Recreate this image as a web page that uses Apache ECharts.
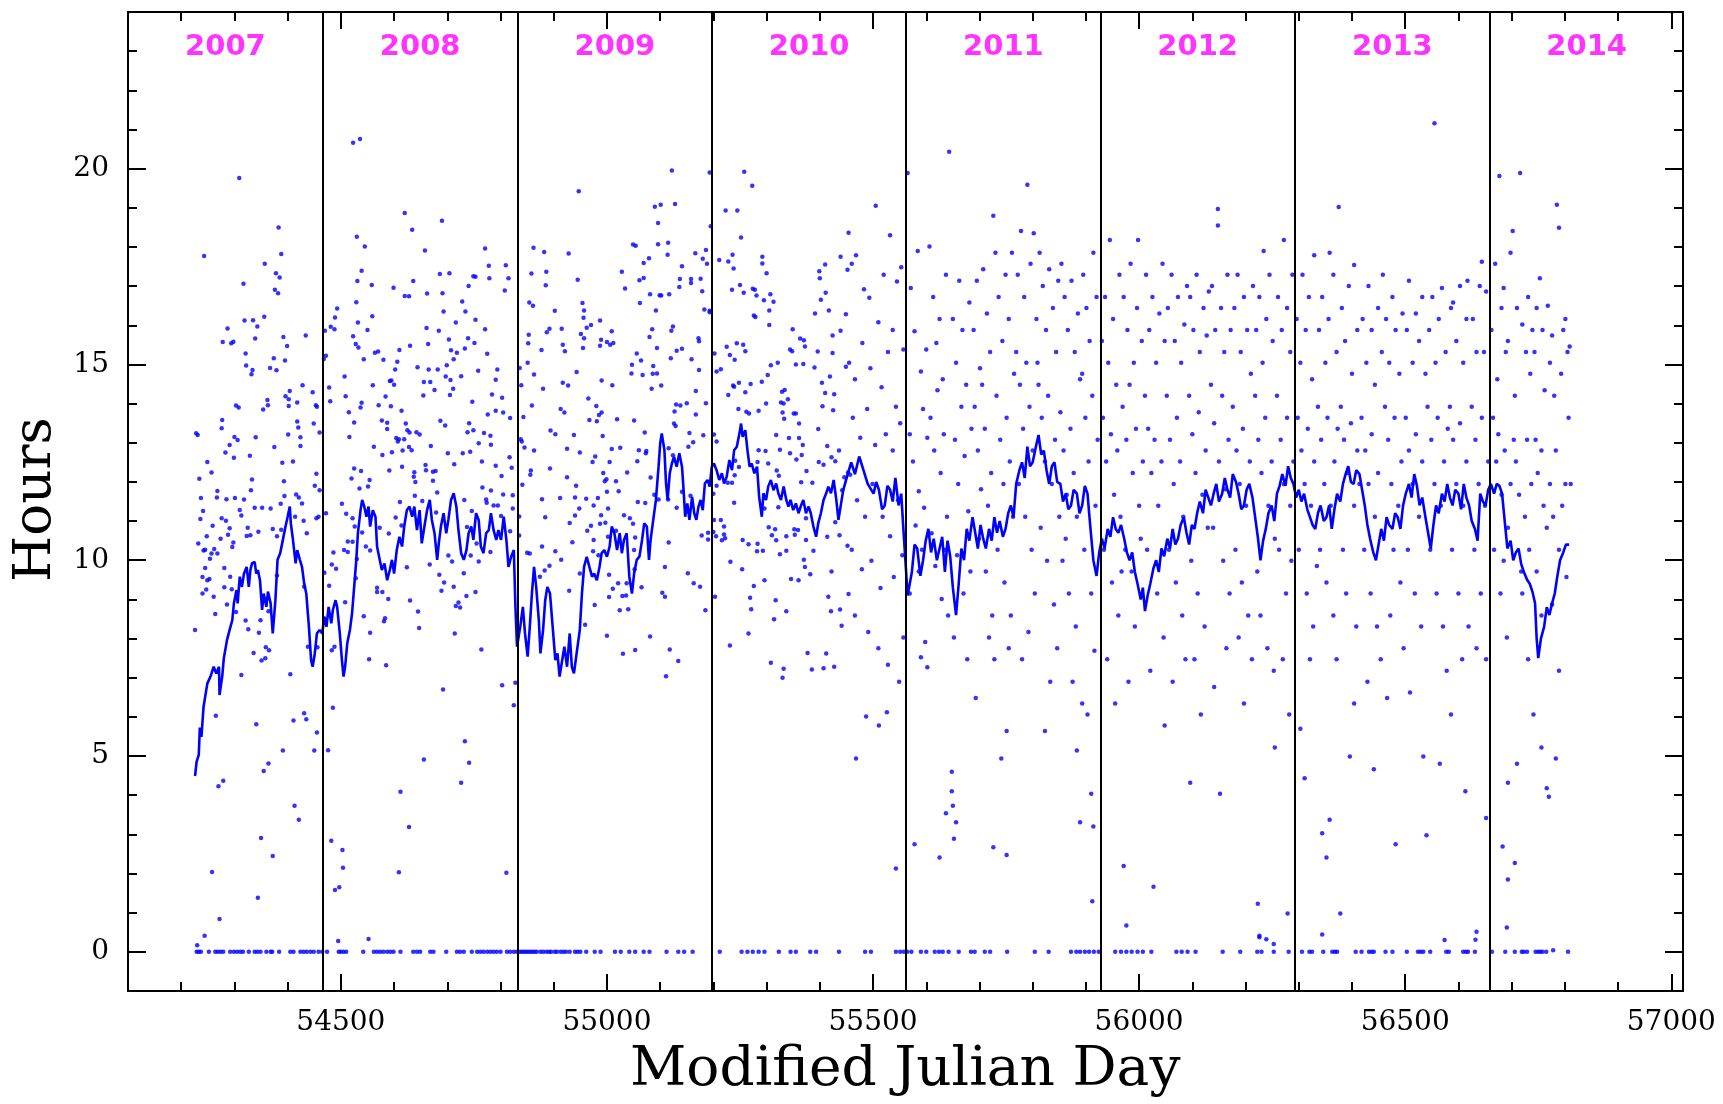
<!DOCTYPE html>
<html>
<head>
<meta charset="utf-8">
<script src="https://cdn.jsdelivr.net/npm/echarts@6/dist/echarts.min.js"></script>
<style>
html,body{margin:0;padding:0;background:#fff;}
#chart{width:1723px;height:1104px;}
</style>
</head>
<body>
<div id="chart"></div>
<script>
// ---- axis ticks ----
const xMajorTicks = [54500, 55000, 55500, 56000, 56500, 57000];
const xMinorTicks = [54200,54300,54400,54600,54700,54800,54900,55100,55200,55300,55400,55600,55700,55800,55900,56100,56200,56300,56400,56600,56700,56800,56900];
const yMajorTicks = [0, 5, 10, 15, 20];
const yMinorTicks = [-1,1,2,3,4,6,7,8,9,11,12,13,14,16,17,18,19,21,22,23,24];

// ---- year boundaries and labels ----
const yearStarts = [54466, 54832, 55197, 55562, 55927, 56293, 56658];
const yearNames = ['2007','2008','2009','2010','2011','2012','2013','2014'];
const yearMids = [54283, 54649, 55015, 55380, 55745, 56110, 56476, 56841];

// ---- running mean (MJD, hours) ----
const runningMean = [
[54226,4.49],[54229,4.86],[54233,5.03],[54235,5.73],[54238,5.49],[54242,6.26],[54249,6.85],[54255,7.03],[54261,7.28],[54266,7.11],[54271,7.28],[54272,6.56],[54277,7.03],[54280,7.49],[54286,7.96],[54291,8.22],[54296,8.47],[54299,8.90],[54304,9.24],[54306,8.90],[54310,9.58],[54314,9.32],[54318,9.66],[54323,9.83],[54327,9.32],[54330,9.75],[54333,9.92],[54338,9.96],[54341,9.66],[54344,9.75],[54348,9.49],[54352,8.73],[54355,9.15],[54360,8.81],[54363,9.20],[54368,8.90],[54372,8.13],[54377,8.98],[54381,10.01],[54386,10.18],[54391,10.52],[54396,10.86],[54400,11.11],[54404,11.37],[54406,10.94],[54410,10.52],[54415,9.92],[54418,10.26],[54423,10.01],[54427,9.83],[54431,9.41],[54435,9.15],[54440,8.30],[54444,7.45],[54447,7.28],[54451,7.62],[54455,8.13],[54460,8.22],[54465,8.13],[54469,8.56],[54473,8.30],[54477,8.81],[54482,8.39],[54485,8.73],[54490,8.98],[54493,8.81],[54498,8.13],[54502,7.45],[54505,7.03],[54508,7.28],[54512,7.88],[54517,8.22],[54521,8.64],[54525,9.32],[54529,10.01],[54532,10.69],[54537,11.28],[54540,11.54],[54544,11.37],[54548,11.11],[54552,11.37],[54555,10.86],[54560,11.28],[54565,11.11],[54568,10.35],[54573,10.01],[54577,9.75],[54582,9.92],[54587,9.49],[54592,9.75],[54596,10.01],[54600,9.66],[54605,10.26],[54610,10.60],[54615,10.35],[54619,10.86],[54624,11.28],[54629,11.37],[54634,11.11],[54638,11.37],[54643,10.77],[54648,11.28],[54652,10.43],[54657,10.86],[54662,11.28],[54667,11.54],[54671,11.03],[54676,10.69],[54681,10.01],[54684,10.43],[54688,10.86],[54693,11.20],[54698,10.69],[54702,11.03],[54707,11.54],[54712,11.71],[54717,11.37],[54721,10.77],[54726,10.18],[54731,10.01],[54736,10.26],[54740,10.69],[54745,10.86],[54749,10.52],[54754,11.20],[54759,11.03],[54763,10.35],[54768,10.18],[54773,10.69],[54778,10.77],[54782,11.20],[54787,10.77],[54792,10.52],[54796,10.77],[54801,10.52],[54806,11.11],[54811,10.52],[54815,9.83],[54820,10.09],[54825,10.26],[54828,8.81],[54831,7.79],
[54837,8.30],[54842,8.81],[54846,8.13],[54851,7.54],[54855,8.30],[54859,9.15],[54863,9.83],[54867,9.32],[54872,8.47],[54875,7.62],[54880,8.22],[54884,8.98],[54888,9.32],[54893,9.15],[54898,8.30],[54903,7.45],[54907,7.62],[54911,7.03],[54915,7.37],[54920,7.79],[54925,7.28],[54930,8.13],[54934,7.28],[54938,7.11],[54943,7.62],[54949,8.22],[54953,9.15],[54957,9.83],[54962,10.09],[54967,9.83],[54972,9.58],[54976,9.66],[54981,9.49],[54986,9.83],[54990,10.18],[54995,10.26],[55000,10.09],[55005,10.35],[55009,10.86],[55014,10.69],[55019,10.26],[55024,10.69],[55028,10.18],[55032,10.52],[55037,10.69],[55042,9.58],[55047,9.15],[55051,9.66],[55056,10.01],[55061,10.09],[55066,10.52],[55070,10.94],[55075,10.86],[55079,10.01],[55082,10.52],[55087,11.03],[55092,11.54],[55097,12.39],[55100,12.98],[55103,13.24],[55108,12.81],[55111,11.96],[55114,11.54],[55118,12.22],[55122,12.47],[55126,12.64],[55131,12.39],[55136,12.73],[55141,12.39],[55144,11.79],[55147,11.11],[55151,11.45],[55155,11.03],[55160,11.62],[55164,11.20],[55168,11.03],[55172,11.37],[55176,11.54],[55180,11.28],[55184,11.96],[55189,12.05],[55193,11.88],[55197,12.39],
[55201,12.47],[55206,12.30],[55211,12.05],[55216,12.22],[55220,11.96],[55225,12.13],[55230,12.56],[55235,12.30],[55239,12.81],[55244,12.90],[55249,13.24],[55252,13.49],[55255,13.15],[55260,13.32],[55264,12.81],[55268,12.39],[55272,12.47],[55277,12.22],[55282,12.39],[55286,11.62],[55291,11.11],[55294,11.71],[55299,11.54],[55303,11.88],[55308,12.05],[55313,11.79],[55318,11.96],[55322,11.71],[55327,11.54],[55332,11.88],[55337,11.54],[55341,11.37],[55345,11.54],[55350,11.28],[55355,11.45],[55360,11.20],[55364,11.37],[55369,11.54],[55374,11.20],[55379,11.37],[55383,11.20],[55388,10.86],[55393,10.60],[55397,10.94],[55402,11.20],[55407,11.54],[55412,11.71],[55416,11.88],[55421,11.71],[55426,12.05],[55431,11.54],[55435,11.03],[55439,11.37],[55444,11.79],[55451,12.13],
[55459,12.5],[55466,12.2],[55474,12.65],[55482,12.3],[55490,11.95],[55501,11.7],[55506,12.0],[55511,11.8],[55517,11.3],[55522,11.4],[55527,11.9],[55532,11.8],[55537,11.5],[55542,12.1],[55548,11.4],[55553,11.7],[55557,10.8],[55565,9.1],
[55569,9.4],[55573,9.7],[55578,10.4],[55583,10.3],[55589,9.6],[55594,10.0],[55599,10.5],[55604,10.8],[55609,10.2],[55614,10.55],[55620,10.0],[55625,10.3],[55630,10.6],[55635,9.7],[55640,10.5],[55645,10.1],[55650,9.3],[55656,8.6],[55661,9.4],[55666,10.3],[55671,10.0],[55676,10.8],[55681,10.5],[55687,11.1],[55692,10.7],[55697,10.3],[55702,10.9],[55707,10.55],[55712,10.3],[55718,10.8],[55723,10.5],[55728,11.1],[55733,10.7],[55738,11.0],[55744,10.6],[55749,10.8],[55754,11.2],[55759,11.4],[55764,11.1],[55769,11.95],[55775,12.3],[55780,12.5],[55785,12.1],[55790,12.9],[55795,12.4],[55800,12.5],[55806,12.9],[55811,13.2],[55816,12.7],[55821,12.8],[55826,12.3],[55831,11.95],[55836,12.4],[55841,12.5],[55846,12.0],[55852,11.95],[55857,11.5],[55862,11.7],[55867,11.3],[55872,11.4],[55877,11.8],[55883,11.7],[55888,11.2],[55893,11.4],[55898,11.9],[55903,11.7],[55908,10.9],[55914,10.0],[55920,9.6],
[55925,10.2],[55930,10.55],[55935,10.3],[55941,10.8],[55946,10.6],[55951,11.1],[55956,10.8],[55961,10.7],[55966,10.9],[55972,10.55],[55977,10.2],[55982,10.0],[55987,10.2],[55992,9.7],[55997,9.4],[56003,9.0],[56007,9.3],[56011,8.7],[56016,9.1],[56021,9.4],[56027,9.8],[56032,10.0],[56037,9.7],[56042,10.3],[56047,10.1],[56053,10.55],[56058,10.3],[56063,10.8],[56068,10.4],[56073,10.55],[56078,10.9],[56084,11.1],[56089,10.7],[56094,10.4],[56099,10.9],[56104,10.8],[56109,11.2],[56114,11.5],[56120,11.2],[56125,11.8],[56130,11.6],[56135,11.4],[56140,11.7],[56145,11.95],[56150,11.5],[56156,11.7],[56161,12.1],[56166,11.8],[56171,11.6],[56176,12.2],[56182,12.0],[56187,11.7],[56192,11.3],[56197,11.4],[56202,11.8],[56207,11.95],[56213,11.6],[56218,11.1],[56223,10.6],[56228,10.0],[56233,10.5],[56238,10.8],[56243,11.2],[56249,11.4],[56254,11.0],[56259,11.7],[56264,11.9],[56269,12.2],[56275,11.9],[56280,12.4],[56285,12.1],[56290,11.95],
[56295,11.6],[56300,11.8],[56305,11.5],[56310,11.7],[56316,11.3],[56321,11.1],[56326,10.9],[56331,10.8],[56336,11.2],[56341,11.4],[56347,11.0],[56352,11.1],[56357,11.4],[56362,10.8],[56367,11.3],[56372,11.7],[56378,11.5],[56383,11.95],[56388,12.2],[56393,12.4],[56398,12.0],[56403,11.95],[56408,12.3],[56414,12.2],[56419,11.8],[56424,11.4],[56429,10.9],[56434,10.55],[56440,10.2],[56445,10.0],[56450,10.4],[56455,10.8],[56460,10.5],[56465,11.1],[56470,10.9],[56476,10.8],[56481,11.2],[56486,11.1],[56491,10.8],[56496,11.4],[56501,11.7],[56507,11.95],[56512,11.6],[56517,12.2],[56522,11.9],[56527,11.4],[56532,11.6],[56538,11.1],[56543,10.7],[56548,10.3],[56553,10.9],[56558,11.4],[56563,11.2],[56569,11.7],[56574,11.5],[56579,11.95],[56584,11.6],[56589,11.4],[56594,11.8],[56600,11.7],[56605,11.3],[56610,11.95],[56615,11.6],[56620,11.4],[56625,11.0],[56631,10.8],[56636,10.5],[56641,11.7],[56646,11.5],[56651,11.4],
[56656,11.8],[56661,11.95],[56667,11.7],[56672,11.95],[56677,11.9],[56682,11.7],[56687,11.0],[56692,10.3],[56698,10.5],[56703,10.0],[56708,10.2],[56713,10.3],[56718,9.9],[56723,9.7],[56729,9.5],[56734,9.4],[56739,9.2],[56744,8.9],[56747,8.0],[56750,7.5],[56755,8.0],[56761,8.3],[56766,8.8],[56771,8.6],[56776,8.9],[56781,9.15],[56786,9.6],[56791,10.0],[56797,10.2],[56802,10.4],[56808,10.4]
];

// ---- daily values 2007-2010 (MJD, hours), non-zero days ----
const dailyEarly = [
[54309,19.76],[54383,18.50],[54243,17.77],[54388,17.82],[54357,17.57],[54378,17.33],[54385,17.22],[54317,17.06],[54376,16.91],[54382,16.82],[54356,16.22],[54319,16.12],[54335,16.13],[54343,15.97],[54287,15.92],[54434,15.74],[54392,15.70],[54339,15.66],[54278,15.57],[54294,15.54],[54298,15.58],[54399,15.47],[54321,15.28],[54374,15.16],[54395,15.10],[54322,14.97],[54367,14.91],[54379,14.85],[54334,14.86],[54332,14.75],[54428,14.47],[54404,14.32],[54447,14.29],[54396,14.19],[54362,14.09],[54402,14.11],
[54523,20.66],[54536,20.76],[54620,18.87],[54690,18.67],[54634,18.44],[54530,18.26],[54545,18.01],[54658,17.91],[54771,17.96],[54778,17.52],[54810,17.53],[54539,17.39],[54686,17.31],[54704,17.33],[54749,17.25],[54753,17.24],[54779,17.20],[54815,17.20],[54531,17.13],[54636,17.13],[54558,17.03],[54740,17.00],[54599,16.96],[54620,16.75],[54628,16.74],[54662,16.81],[54691,16.82],[54808,16.89],[54529,16.59],[54728,16.61],[54693,16.35],[54734,16.35],[54493,16.43],[54489,16.20],[54559,16.23],[54532,16.07],[54753,16.14],[54716,16.07],[54481,15.96],[54488,15.90],[54470,15.86],[54550,15.88],[54661,15.93],[54684,15.86],[54771,15.90],[54523,15.72],[54703,15.64],[54739,15.67],[54528,15.52],[54533,15.43],[54751,15.55],[54664,15.52],[54630,15.48],[54610,15.37],[54564,15.30],[54570,15.33],[54707,15.36],[54718,15.30],[54733,15.41],[54775,15.27],[54472,15.22],[54468,15.14],[54543,15.13],[54580,15.12],[54606,15.07],[54712,15.13],[54644,14.93],[54699,14.98],[54602,14.87],[54665,14.87],[54682,14.87],[54758,14.84],[54794,14.87],[54507,14.69],[54697,14.69],[54726,14.70],[54791,14.61],[54592,14.58],[54595,14.59],[54656,14.55],[54668,14.55],[54706,14.60],[54478,14.41],[54560,14.47],[54600,14.48],[54676,14.35],[54711,14.38],[54509,14.19],[54584,14.18],[54655,14.21],[54705,14.22],[54784,14.23],[54803,14.15],
[54303,13.95],[54308,13.90],[54354,13.85],[54363,13.96],[54402,13.94],[54418,14.03],[54453,13.96],[54455,13.92],[54277,13.58],[54418,13.54],[54420,13.39],[54276,13.37],[54449,13.49],[54228,13.24],[54231,13.20],[54300,13.15],[54306,13.07],[54340,13.14],[54401,13.21],[54424,13.14],[54460,13.26],[54291,12.94],[54375,12.89],[54424,12.92],[54283,12.75],[54299,12.62],[54329,12.67],[54249,12.51],[54390,12.49],[54410,12.52],[54257,12.24],[54454,12.21],[54234,12.08],[54333,12.06],[54393,12.02],[54451,11.90],[54331,11.79],[54460,11.79],[54268,11.77],[54237,11.59],[54267,11.60],[54285,11.56],[54301,11.59],[54318,11.55],[54394,11.64],[54416,11.68],[54421,11.60],[54387,11.44],[54427,11.45],[54338,11.34],[54352,11.34],[54368,11.32],[54241,11.26],[54236,11.05],[54310,11.28],[54313,11.14],[54276,11.07],[54284,11.01],[54458,11.11],[54454,11.07],[54430,11.01],[54414,11.11],[54259,10.88],[54291,10.82],[54372,10.80],[54388,10.78],[54325,10.83],[54345,10.73],[54323,10.62],[54330,10.64],[54288,10.65],[54248,10.61],[54274,10.55],[54436,10.69],[54380,10.61],[54232,10.43],[54298,10.45],[54296,10.34],[54242,10.25],[54245,10.27],[54262,10.29],[54257,10.17],[54254,10.04],[54268,10.17],[54281,9.80],[54245,9.80],[54240,9.57],[54249,9.49],[54253,9.52],[54292,9.58],[54380,9.61],[54281,9.31],[54295,9.26],[54240,9.15],[54247,9.25],[54431,9.32],[54261,9.07],[54286,8.87],[54303,8.68],[54264,8.63],[54364,8.70],[54349,8.47],[54321,8.46],[54326,8.24],[54346,8.15],[54226,8.22],[54359,7.78],[54365,7.70],[54438,7.79],[54456,7.78],[54336,7.63],[54358,7.50],[54351,7.44],[54313,7.07],[54405,7.09],
[54480,14.06],[54539,14.02],[54571,13.96],[54594,13.93],[54614,13.82],[54537,13.90],[54747,14.05],[54515,13.78],[54525,13.52],[54577,13.57],[54587,13.51],[54622,13.49],[54687,13.56],[54696,13.44],[54741,13.50],[54776,13.72],[54791,13.82],[54805,13.77],[54818,13.63],[54587,13.35],[54625,13.32],[54629,13.26],[54642,13.27],[54648,13.21],[54738,13.27],[54749,13.32],[54769,13.25],[54516,13.15],[54604,13.12],[54619,13.09],[54781,13.18],[54607,13.03],[54609,13.09],[54759,12.99],[54562,12.90],[54628,12.89],[54633,12.81],[54669,12.92],[54782,12.95],[54596,12.76],[54616,12.80],[54578,12.69],[54701,12.73],[54729,12.73],[54743,12.77],[54817,12.63],[54591,12.29],[54615,12.39],[54659,12.43],[54713,12.45],[54765,12.52],[54791,12.41],[54821,12.36],[54525,12.34],[54538,12.28],[54660,12.30],[54673,12.26],[54638,12.25],[54678,12.28],[54520,12.09],[54554,12.05],[54637,12.13],[54673,12.03],[54802,12.15],[54640,12.00],[54535,11.83],[54551,11.88],[54766,11.86],[54782,11.78],[54639,11.65],[54681,11.73],[54805,11.68],[54823,11.66],[54611,11.49],[54653,11.51],[54732,11.54],[54773,11.55],[54774,11.47],[54502,11.44],[54787,11.40],[54795,11.40],[54823,11.32],[54510,11.19],[54746,11.26],[54679,11.22],[54472,11.20],[54603,11.09],[54522,11.07],[54801,11.13],[54614,10.89],[54526,10.86],[54573,10.83],[54737,10.85],[54540,10.71],[54590,10.68],[54818,10.74],[54513,10.48],[54522,10.47],[54547,10.35],[54555,10.25],[54755,10.43],[54513,10.21],[54506,10.26],[54486,10.20],[54530,10.03],[54702,10.12],[54709,9.97],[54744,10.12],[54759,9.97],[54781,10.21],[54483,9.89],[54491,9.78],[54667,9.89],[54624,9.82],[54469,9.68],[54685,9.63],[54528,9.54],[54731,9.67],[54694,9.43],[54478,9.35],[54568,9.30],[54712,9.32],[54568,9.19],[54578,9.19],[54689,9.22],[54753,9.19],[54736,9.09],[54589,9.01],[54630,8.97],[54508,8.93],[54721,8.92],[54716,8.83],[54724,8.79],[54645,8.69],[54543,8.57],[54583,8.52],[54581,8.44],[54647,8.27],[54555,8.15],[54714,8.13],[54488,7.79],[54483,7.70],[54764,7.72],[54553,7.47],[54585,7.32],
[54265,6.03],[54341,5.81],[54411,5.91],[54431,6.09],[54435,5.94],[54455,5.60],[54391,5.14],[54450,5.14],[54364,4.81],[54355,4.62],[54270,4.23],[54279,4.37],[54413,3.73],[54421,3.37],[54350,2.91],[54372,2.45],[54258,2.04],[54344,1.38],[54272,0.84],[54244,0.41],[54230,0.17],
[54485,6.23],[54476,5.15],[54692,6.70],[54803,6.81],[54825,6.30],[54828,6.87],[54733,5.38],[54656,4.91],[54741,4.83],[54726,4.32],[54612,4.09],[54628,3.19],[54482,2.84],[54503,2.60],[54504,2.15],[54609,2.03],[54811,2.02],[54489,1.58],[54497,1.65],[54495,0.28],[54552,0.33],
[55122,19.95],[55193,19.90],[54947,19.42],[55258,19.92],[55273,19.56],[55090,19.03],[55101,19.08],[55128,19.10],[55096,18.61],[55223,18.93],[55245,18.93],[55195,18.53],[55252,18.24],[54862,17.98],[54882,17.87],[54928,17.83],[55049,18.06],[55054,18.03],[55096,18.07],[55115,18.11],[55114,17.80],[55166,17.84],[55186,17.92],[55180,17.70],[55188,17.57],[55069,17.59],[55079,17.71],[55141,17.51],[55454,18.36],[55211,17.67],[55228,17.63],[55236,17.80],[55238,17.45],[55292,17.75],[55292,17.58],[55300,17.33],[55439,17.75],[55452,17.42],[55410,17.55],[55399,17.38],[55400,17.20],[54858,17.32],[54886,17.37],[54885,17.02],[54945,17.16],[55028,17.37],[55034,16.94],[55061,17.15],[55069,17.21],[55137,17.18],[55136,16.98],[55158,17.18],[55158,17.08],[55176,17.19],[55179,16.87],[55235,16.91],[55250,17.03],[55257,16.83],[55274,16.93],[55278,16.91],[55281,16.76],[55307,16.79],[55295,16.64],[55313,16.60],[55305,16.38],[55411,16.83],[55402,16.65],[55417,16.38],[55391,16.30],[55449,16.28],[54854,16.58],[54861,16.50],[54902,16.37],[54954,16.57],[54957,16.38],[54956,16.19],[55062,16.57],[55081,16.79],[55099,16.77],[55102,16.76],[55117,16.79],[55092,16.38],[55183,16.40],[55193,16.37],[55193,16.33],[55276,16.25],[55279,16.21],[54987,16.12],[54970,16.01],[54962,15.94],[54951,15.78],[54957,15.67],[54915,15.91],[54892,15.91],[54887,15.82],[54853,15.76],[54852,15.54],[54917,15.50],[54921,15.34],[54877,15.37],[54955,15.42],[54989,15.63],[54987,15.48],[55000,15.57],[55006,15.50],[55012,15.55],[55009,15.85],[55085,15.90],[55080,15.70],[55094,15.42],[55121,15.86],[55124,15.97],[55141,15.40],[55131,15.35],[55172,15.67],[55173,15.59],[55305,16.01],[55349,15.90],[55363,15.66],[55370,15.62],[55372,15.46],[55344,15.38],[55348,15.34],[55244,15.54],[55256,15.50],[55260,15.34],[55225,15.45],[55231,15.24],[55240,15.12],[55396,15.33],[55424,15.74],[55439,15.86],[55424,15.29],[54851,15.04],[54863,14.74],[54836,14.91],[54839,14.47],[54880,14.38],[54917,14.53],[54927,14.46],[54943,14.81],[54965,14.13],[54990,14.59],[55010,14.47],[55056,15.28],[55064,15.10],[55047,14.99],[55046,14.77],[55067,14.73],[55087,14.96],[55086,14.76],[55094,14.77],[55084,14.38],[55102,14.46],[55120,15.16],[55159,15.13],[55173,14.86],[55167,14.32],[55202,15.28],[55206,14.82],[55214,14.88],[55237,14.46],[55239,14.43],[55248,14.53],[55228,14.22],[55260,14.29],[55270,14.50],[55291,14.56],[55302,14.73],[55308,14.98],[55321,15.04],[55355,15.00],[55369,15.01],[55390,14.92],[55404,14.53],[55419,14.69],[55410,14.27],[55427,14.24],[55449,14.94],[55329,14.30],[55334,14.35],[55340,14.11],
[54859,13.95],[54843,13.66],[54913,13.86],[54920,13.77],[54980,13.94],[54985,13.71],[54990,13.77],[54967,13.58],[54981,13.55],[55019,13.60],[55051,13.57],[55127,13.80],[55130,13.98],[55138,13.95],[55150,14.01],[55186,14.01],[55167,13.72],[55126,13.49],[55129,13.43],[54894,13.31],[54903,13.22],[54938,13.20],[54992,13.17],[55071,13.26],[55155,13.25],[55181,13.19],[54838,13.09],[54840,13.03],[54845,12.88],[54863,12.80],[54925,12.85],[54949,12.75],[55009,12.84],[55025,12.87],[55060,12.81],[55074,12.79],[55073,12.73],[55162,13.01],[55153,12.90],[55116,12.86],[55124,12.68],[54978,12.65],[54973,12.51],[55005,12.51],[55057,12.53],[55038,12.24],[54857,12.29],[54856,12.18],[54893,12.34],[54925,12.12],[54993,12.23],[54999,12.07],[54996,12.02],[54841,11.93],[54942,11.90],[55017,12.02],[55022,11.76],[55000,11.75],[55082,12.11],[54878,11.56],[54912,11.59],[54940,11.60],[54961,11.57],[54983,11.59],[54948,11.32],[54975,11.40],[55002,11.32],[55058,11.49],[55072,11.46],[55089,11.67],[55097,11.55],[55115,11.55],[55131,11.34],[55141,11.75],[55157,11.65],[54835,11.12],[54884,11.10],[54940,11.14],[54989,11.15],[55032,11.15],[55043,11.07],[54997,10.96],[54930,10.95],[54987,10.93],[55049,10.93],[54970,10.88],[54963,10.75],[54975,10.52],[55002,10.60],[55017,10.75],[55051,10.26],[55053,10.58],[55178,10.63],[55190,10.70],[55190,10.53],[54835,10.63],[54878,10.35],[54903,10.23],[54935,10.46],[54974,10.23],[54984,10.13],[54850,10.19],[54855,10.17],[54892,9.86],[54914,10.01],[54883,9.74],[54874,9.58],[54949,9.66],[55004,9.63],[55021,9.41],[55037,9.41],[55052,9.77],[55116,10.45],[55109,9.83],[55152,9.67],[55163,9.41],[55175,9.32],[55011,9.27],[55004,9.06],[54929,9.22],[55029,9.09],[55036,9.10],[55065,9.31],[55104,9.17],[55109,9.07],[54977,8.86],[55024,8.72],[55040,8.75],[55185,8.72],[54959,8.35],[55000,8.07],[55081,8.05],[55030,7.61],[55053,7.71],[55118,7.72],[55134,7.43],[55111,7.04],
[55201,13.21],[55206,13.03],[55247,13.86],[55262,13.79],[55267,13.75],[55285,13.82],[55299,14.00],[55327,14.03],[55332,14.00],[55330,13.77],[55333,13.61],[55351,13.75],[55355,13.75],[55405,13.93],[55425,13.83],[55361,13.49],[55397,13.35],[55318,13.20],[55342,13.12],[55361,13.12],[55368,12.94],[55285,12.81],[55298,12.79],[55325,12.82],[55344,12.73],[55366,12.69],[55356,12.57],[55414,12.92],[55436,12.80],[55422,12.63],[55429,12.53],[55241,12.54],[55283,12.51],[55303,12.47],[55248,12.38],[55398,12.51],[55407,12.44],[55319,12.29],[55323,12.16],[55375,12.28],[55386,11.98],[55365,11.99],[55240,12.17],[55227,11.98],[55235,11.98],[55446,12.12],[55457,12.18],[55442,11.79],[55239,11.47],[55296,11.32],[55322,11.35],[55200,11.70],[55206,11.90],[55201,11.03],[55214,11.03],[55220,10.86],[55220,10.66],[55205,10.61],[55200,10.72],[55216,10.51],[55222,10.56],[55304,10.84],[55316,10.79],[55310,10.64],[55318,10.51],[55337,10.61],[55352,10.79],[55359,10.77],[55353,10.65],[55374,10.52],[55414,10.60],[55437,10.64],[55452,10.37],[55429,10.97],[55374,11.07],[55255,10.52],[55266,10.41],[55283,10.42],[55282,10.23],[55293,10.24],[55325,10.15],[55337,10.24],[55388,10.24],[55370,10.01],[55372,9.83],[55382,9.64],[55232,9.96],[55254,9.77],[55296,9.49],[55346,9.52],[55360,9.49],[55422,9.71],[55276,9.34],[55203,9.07],[55269,9.04],[55317,8.98],[55271,8.75],[55416,9.07],[55454,9.14],[55421,8.70],[55438,8.74],[55337,8.70],[55314,8.49],[55441,8.33],[55266,8.13],[55231,7.82],[55377,7.63],[55412,7.62],[55308,7.38],[55332,7.23],[55385,7.21],[55407,7.24],[55427,7.28],[55330,7.00],
[55460,17.57],[55468,17.79],[55483,16.92],[55493,16.70],[55505,19.05],[55510,16.08],[55520,17.29],[55532,18.30],[55537,15.88],[55545,17.12],[55553,17.48],[55557,15.38],[55455,15.04],[55466,14.62],[55480,15.55],[55495,14.90],[55516,14.42],[55528,15.32],[55543,13.92],[55462,13.64],[55476,13.13],[55489,13.86],[55504,12.94],[55524,13.22],[55537,12.80],[55551,13.50],[55453,12.24],[55470,11.53],[55485,11.11],[55499,11.95],[55518,11.11],[55532,10.61],[55547,11.53],[55460,10.27],[55479,9.77],[55497,9.99],[55514,9.29],[55539,9.57],[55555,10.13],[55466,8.59],[55491,8.17],[55510,7.75],[55528,7.33],[55549,6.90],[55487,6.01],[55511,5.78],[55526,6.12],[55543,2.13],[55468,4.94],[55557,8.03]
];

// ---- daily values 2011-2014 (MJD, hours), non-zero days ----
const dailyLate = [
[55565,19.89],[55571,16.95],[55578,15.85],[55584,17.90],[55590,14.82],[55594,13.86],[55600,15.38],[55569,13.22],[55575,12.52],[55586,11.76],[55596,11.34],[55602,13.13],[55580,10.89],[55592,10.27],[55569,9.15],[55598,7.91],[55590,7.52],[55602,7.27],[55578,2.75],[55586,9.71],
[55606,18.01],[55613,16.72],[55619,15.55],[55625,16.16],[55631,14.62],[55637,17.29],[55608,13.64],[55615,12.80],[55621,14.34],[55627,12.23],[55633,13.22],[55639,11.11],[55610,10.69],[55617,9.85],[55629,9.01],[55635,10.27],[55641,8.59],[55625,2.41],[55637,3.54],[55643,20.43],
[55648,4.60],[55648,4.10],[55650,3.73],[55656,3.31],[55652,2.89],[55650,16.16],[55656,15.04],[55662,17.14],[55668,15.88],[55675,14.48],[55681,16.58],[55654,13.08],[55660,11.95],[55666,13.92],[55672,12.66],[55679,11.25],[55685,13.36],[55658,10.13],[55670,9.15],[55683,9.71],[55677,7.47],[55652,8.03],
[55689,15.88],[55695,17.14],[55701,14.90],[55707,17.43],[55714,16.30],[55720,15.32],[55726,18.80],[55691,13.92],[55697,12.80],[55703,11.81],[55710,13.36],[55716,11.39],[55722,12.23],[55693,6.48],[55699,10.55],[55712,9.71],[55724,8.59],[55718,8.03],[55726,2.67],[55705,14.48],
[55730,17.85],[55736,16.72],[55743,15.60],[55749,17.29],[55755,16.16],[55761,17.85],[55765,14.76],[55732,14.20],[55739,13.08],[55745,11.95],[55751,13.64],[55757,12.52],[55763,11.11],[55734,10.27],[55747,9.43],[55759,8.59],[55741,4.94],[55751,5.64],[55751,2.47],[55728,7.47],[55755,7.75],
[55772,17.29],[55778,18.41],[55784,16.72],[55790,19.59],[55796,17.57],[55802,18.35],[55807,16.16],[55769,15.32],[55776,14.48],[55782,13.36],[55788,15.04],[55794,13.92],[55800,12.80],[55774,11.95],[55786,11.11],[55798,10.27],[55804,9.15],[55780,7.47],[55792,8.17],[55809,15.04],
[55813,17.85],[55819,17.00],[55825,15.88],[55831,17.43],[55838,16.44],[55844,15.32],[55848,17.14],[55811,14.48],[55817,13.64],[55823,12.52],[55829,14.20],[55836,11.95],[55842,13.08],[55815,10.83],[55827,9.99],[55840,8.87],[55823,5.64],[55846,7.75],[55833,6.90],[55850,11.11],
[55854,17.57],[55860,16.72],[55866,15.88],[55873,17.14],[55879,15.32],[55885,16.30],[55889,14.62],[55852,13.78],[55858,12.80],[55864,11.67],[55871,13.36],[55877,12.23],[55883,11.11],[55856,9.99],[55868,9.15],[55881,8.31],[55883,5.14],[55889,3.31],[55875,6.90],[55862,10.55],
[55895,17.29],[55901,16.44],[55907,15.60],[55914,17.85],[55920,16.72],[55893,14.76],[55899,13.64],[55905,12.52],[55912,14.20],[55918,11.39],[55922,13.08],[55897,10.27],[55910,9.15],[55916,7.69],[55893,6.34],[55910,4.04],[55914,3.20],[55912,1.29],[55903,6.06],
[55930,15.60],[55936,16.72],[55942,15.04],[55945,18.18],[55951,16.16],[55957,14.48],[55963,17.29],[55932,13.64],[55938,12.52],[55947,13.22],[55953,11.67],[55959,12.80],[55965,11.11],[55934,10.27],[55949,9.43],[55961,8.59],[55940,7.47],[55967,9.71],[55955,6.34],
[55971,16.72],[55978,15.88],[55984,17.57],[55990,15.04],[55996,16.44],[55998,18.18],[56005,15.60],[55969,13.92],[55976,13.08],[55982,14.48],[55988,12.23],[55994,13.36],[56000,11.39],[56007,12.52],[55974,10.27],[55986,9.71],[56003,10.55],[55971,2.19],[55976,0.67],[55992,8.31],[55980,6.90],
[56013,17.29],[56019,15.88],[56025,16.72],[56032,15.04],[56038,16.30],[56044,17.57],[56048,15.60],[56011,14.20],[56017,13.36],[56023,12.23],[56029,13.08],[56036,11.39],[56042,12.52],[56015,10.27],[56027,1.66],[56034,9.15],[56046,8.03],[56048,5.78],[56021,7.18],
[56054,16.44],[56061,17.29],[56067,15.60],[56073,16.72],[56079,15.04],[56085,16.02],[56090,17.00],[56052,14.20],[56058,13.08],[56065,11.95],[56071,13.64],[56077,12.52],[56083,11.11],[56056,10.27],[56069,9.43],[56081,8.59],[56087,7.47],[56096,4.32],[56063,6.90],
[56096,16.72],[56102,15.88],[56108,17.29],[56114,15.32],[56121,16.44],[56127,15.74],[56131,16.86],[56094,14.20],[56100,13.22],[56106,12.23],[56112,13.78],[56119,11.67],[56125,12.80],[56129,10.83],[56098,9.99],[56110,9.15],[56123,8.31],[56104,7.47],[56116,6.06],
[56137,17.00],[56143,15.88],[56148,18.97],[56148,18.55],[56154,16.44],[56160,15.32],[56166,17.29],[56172,15.88],[56135,14.48],[56141,13.50],[56150,12.52],[56156,14.20],[56162,11.81],[56168,13.08],[56139,10.83],[56152,4.04],[56158,9.99],[56170,9.15],[56141,6.76],[56164,7.75],
[56179,16.44],[56185,17.29],[56191,15.32],[56197,16.72],[56203,15.88],[56210,14.76],[56214,17.00],[56176,13.92],[56183,12.80],[56189,11.95],[56195,13.36],[56201,11.39],[56208,12.52],[56181,10.27],[56193,9.43],[56205,8.59],[56197,6.34],[56212,7.47],[56187,8.03],
[56220,15.88],[56226,16.72],[56232,15.04],[56234,17.90],[56239,16.16],[56245,17.29],[56251,15.60],[56218,14.20],[56224,13.08],[56230,12.23],[56237,13.64],[56243,11.39],[56249,12.52],[56255,10.55],[56222,9.71],[56228,8.59],[56241,7.75],[56253,7.18],[56255,5.22],
[56261,16.72],[56268,15.88],[56272,18.18],[56278,16.44],[56284,15.32],[56288,17.29],[56259,14.20],[56266,13.08],[56272,11.95],[56278,13.64],[56284,11.39],[56290,12.52],[56263,10.27],[56276,9.15],[56286,9.99],[56270,7.47],[56282,6.06],
[56223,1.23],[56226,0.37],[56226,0.41],[56239,0.32],[56253,0.20],[56279,0.98],
[56296,16.16],[56303,15.04],[56307,17.29],[56313,15.88],[56319,16.72],[56325,14.62],[56329,17.79],[56298,13.64],[56305,12.80],[56311,11.95],[56317,13.36],[56323,11.39],[56329,12.52],[56300,10.27],[56315,9.15],[56327,8.31],[56303,5.70],[56311,4.43],[56321,7.47],[56334,9.85],
[56338,15.88],[56344,16.72],[56350,15.04],[56356,16.16],[56358,17.85],[56365,17.29],[56371,15.32],[56336,13.92],[56342,13.08],[56348,11.95],[56354,13.64],[56360,11.39],[56367,12.52],[56373,13.36],[56340,10.27],[56352,9.43],[56365,8.59],[56344,3.03],[56352,2.41],[56358,3.37],[56371,7.47],
[56375,19.02],[56381,16.44],[56387,15.60],[56394,17.00],[56400,14.76],[56404,17.54],[56410,15.88],[56379,13.92],[56385,13.08],[56391,12.23],[56398,13.50],[56404,11.39],[56410,12.80],[56414,11.95],[56383,10.27],[56396,4.99],[56404,6.34],[56389,9.15],[56408,8.31],
[56420,16.16],[56427,15.04],[56431,17.00],[56437,15.88],[56443,14.48],[56449,16.44],[56456,15.32],[56418,13.64],[56425,12.80],[56431,11.95],[56437,13.22],[56443,11.11],[56449,12.23],[56423,10.27],[56441,4.66],[56435,9.15],[56447,8.31],[56454,7.47],[56429,6.90],
[56458,17.29],[56464,16.16],[56470,15.04],[56476,16.72],[56482,15.88],[56489,14.76],[56495,16.30],[56462,13.92],[56468,13.08],[56474,11.95],[56480,13.64],[56487,11.39],[56493,12.52],[56466,6.48],[56478,10.27],[56491,9.43],[56482,2.75],[56472,8.59],[56497,7.75],
[56503,15.88],[56507,17.14],[56514,15.04],[56520,16.30],[56526,15.60],[56532,16.72],[56538,14.76],[56501,13.64],[56507,12.80],[56514,11.95],[56520,13.22],[56526,11.11],[56532,12.52],[56509,6.62],[56534,4.99],[56540,2.98],[56505,10.27],[56518,9.15],[56530,8.31],
[56545,15.88],[56551,16.72],[56555,21.16],[56557,15.04],[56563,16.16],[56569,16.95],[56576,15.32],[56542,13.92],[56549,13.08],[56555,11.95],[56561,13.64],[56567,11.39],[56573,12.52],[56580,13.36],[56547,10.27],[56565,4.80],[56559,9.15],[56571,8.31],[56578,7.18],
[56586,16.44],[56590,16.58],[56596,15.60],[56603,17.00],[56609,15.04],[56615,16.16],[56617,17.14],[56584,13.92],[56590,13.08],[56596,11.95],[56603,13.50],[56609,11.39],[56615,12.52],[56586,6.06],[56613,4.10],[56588,10.27],[56600,9.15],[56619,8.31],[56607,7.47],
[56627,16.16],[56634,15.32],[56640,17.00],[56644,17.62],[56648,15.32],[56652,16.86],[56625,13.92],[56632,13.08],[56638,11.95],[56644,13.64],[56650,11.39],[56656,12.52],[56630,10.27],[56642,9.15],[56634,7.75],[56652,7.47],[56652,3.42],[56632,0.31],
[56344,0.44],[56378,0.98],[56574,0.30],[56634,0.51],
[56662,15.88],[56669,17.57],[56673,14.62],[56677,19.81],[56681,16.44],[56685,16.95],[56689,15.32],[56693,15.60],[56698,17.85],[56665,13.64],[56671,12.52],[56675,13.22],[56681,11.67],[56687,12.80],[56693,10.83],[56698,11.95],[56667,10.27],[56679,9.15],[56691,8.03],[56683,2.69],[56693,4.32],[56693,1.85],[56691,0.62],[56685,9.99],
[56702,18.41],[56706,14.20],[56710,16.44],[56716,19.89],[56720,16.02],[56727,15.32],[56731,16.72],[56735,14.76],[56739,15.88],[56704,13.08],[56708,12.52],[56714,11.67],[56720,9.15],[56725,11.11],[56729,13.08],[56733,10.27],[56737,11.95],[56706,2.27],[56710,4.80],[56731,7.47],[56741,6.06],[56718,9.71],
[56743,15.32],[56747,16.44],[56753,17.20],[56758,15.88],[56762,14.34],[56768,16.50],[56772,15.04],[56776,15.74],[56780,14.20],[56785,19.08],[56789,18.49],[56793,14.76],[56797,15.88],[56801,16.16],[56805,15.32],[56809,15.46],[56745,13.08],[56749,12.23],[56756,12.80],[56760,11.39],[56766,10.83],[56772,11.95],[56778,11.11],[56783,12.80],[56789,10.27],[56795,11.39],[56801,11.95],[56807,13.64],[56811,11.95],[56747,9.71],[56756,5.22],[56766,4.18],[56770,3.96],[56783,4.94],[56776,8.87],[56789,7.18],[56803,9.57],[56756,8.59],[56778,0.04]
];

// ---- days with zero hours (MJD) ----
const zeroDays = [54229,54233,54237,54252,54264,54269,54274,54279,54292,54299,54305,54311,54316,54327,54338,54343,54349,54360,54368,54371,54384,54405,54411,54424,54430,54436,54443,54449,54458,54465,54474,54496,54500,54505,54510,54542,54562,54568,54574,54580,54587,54593,54599,54612,54636,54643,54649,54668,54674,54698,54718,54724,54731,54746,54756,54762,54768,54775,54781,54787,54793,54800,54812,54818,54825,54831,
54836,54840,54844,54848,54852,54856,54860,54864,54868,54875,54880,54886,54891,54895,54902,54906,54913,54918,54923,54930,54940,54945,54950,54961,54977,54988,55015,55026,55042,55053,55069,55080,55112,55134,55145,55161,55212,55253,55264,55274,55285,55296,55323,55345,55355,55382,55393,55436,
55485,55496,55543,55551,55558,55564,55572,55590,55600,55616,55624,55631,55642,55661,55684,55691,55710,55720,55752,55804,55830,55872,55882,55889,55898,55906,55915,55924,55955,55966,55976,55986,55997,56007,56023,56070,56080,56091,56106,56157,56190,
56222,56230,56253,56281,56306,56320,56325,56346,56363,56368,56372,56407,56418,56432,56437,56441,56463,56476,56503,56524,56529,56534,56547,56577,56582,56609,56614,56618,56631,56663,56688,56706,56719,56723,56729,56745,56750,56754,56758,56765,56806];

const X_MIN = 54100, X_MAX = 57022, Y_MIN = -1, Y_MAX = 24;
const BLUE = '#0000ff';
const tickFont = {fontFamily: 'DejaVu Serif', fontSize: 28, color: '#000'};

function xAx(position, values, len, showLine, showLabel) {
  return {
    type: 'value', position: position, min: X_MIN, max: X_MAX,
    axisLine: {show: showLine, onZero: false, lineStyle: {color: '#000', width: 2}},
    axisTick: {show: true, inside: true, length: len, customValues: values, lineStyle: {color: '#000', width: 2}},
    axisLabel: Object.assign({show: showLabel, customValues: values, margin: 18, formatter: v => String(v)}, tickFont),
    splitLine: {show: false}
  };
}
function yAx(position, values, len, showLine, showLabel) {
  return {
    type: 'value', position: position, min: Y_MIN, max: Y_MAX,
    axisLine: {show: showLine, onZero: false, lineStyle: {color: '#000', width: 2}},
    axisTick: {show: true, inside: true, length: len, customValues: values, lineStyle: {color: '#000', width: 2}},
    axisLabel: Object.assign({show: showLabel, customValues: values, margin: 19, formatter: v => String(v)}, tickFont),
    splitLine: {show: false}
  };
}

const chart = echarts.init(document.getElementById('chart'), null, {renderer: 'canvas'});
chart.setOption({
  animation: false,
  backgroundColor: '#fff',
  grid: {left: 128, top: 12, width: 1555, height: 979, containLabel: false},
  xAxis: [
    xAx('bottom', xMajorTicks, 17, true, true),
    xAx('bottom', xMinorTicks, 9, false, false),
    xAx('top', xMajorTicks, 17, true, false),
    xAx('top', xMinorTicks, 9, false, false)
  ],
  yAxis: [
    yAx('left', yMajorTicks, 18, true, true),
    yAx('left', yMinorTicks, 9, false, false),
    yAx('right', yMajorTicks, 18, true, false),
    yAx('right', yMinorTicks, 9, false, false)
  ],
  graphic: [
    {type: 'text', left: 630, top: 1043, style: {text: 'Modified Julian Day', fontFamily: 'DejaVu Serif', fontSize: 55, fill: '#000'}},
    {type: 'text', rotation: Math.PI / 2, x: 10, y: 582, style: {text: 'Hours', fontFamily: 'DejaVu Serif', fontSize: 53, fill: '#000', textVerticalAlign: 'top'}}
  ],
  series: [
    {
      type: 'scatter', name: 'zero', data: zeroDays.map(d => [d, 0]),
      symbol: 'circle', symbolSize: 4.5, itemStyle: {color: BLUE}, silent: true, z: 2,
      markLine: {
        silent: true, symbol: ['none', 'none'], label: {show: false},
        lineStyle: {color: '#000', width: 2, type: 'solid'},
        data: yearStarts.map(v => ({xAxis: v}))
      }
    },
    {
      type: 'scatter', name: 'daily', data: dailyEarly.concat(dailyLate),
      symbol: 'circle', symbolSize: 4.5, itemStyle: {color: BLUE}, silent: true, z: 3
    },
    {
      type: 'line', name: 'mean', data: runningMean, showSymbol: false,
      lineStyle: {color: BLUE, width: 2.6}, silent: true, z: 4
    },
    {
      type: 'scatter', name: 'years',
      data: yearNames.map((n, i) => [yearMids[i], 23.1, n]),
      symbol: 'circle', symbolSize: 1, itemStyle: {color: 'rgba(0,0,0,0)'}, silent: true, z: 5,
      label: {show: true, position: 'inside', formatter: p => p.data[2],
        color: '#ff00ff', fontFamily: 'DejaVu Sans', fontWeight: 'bold', fontSize: 29}
    }
  ]
});
</script>
</body>
</html>
